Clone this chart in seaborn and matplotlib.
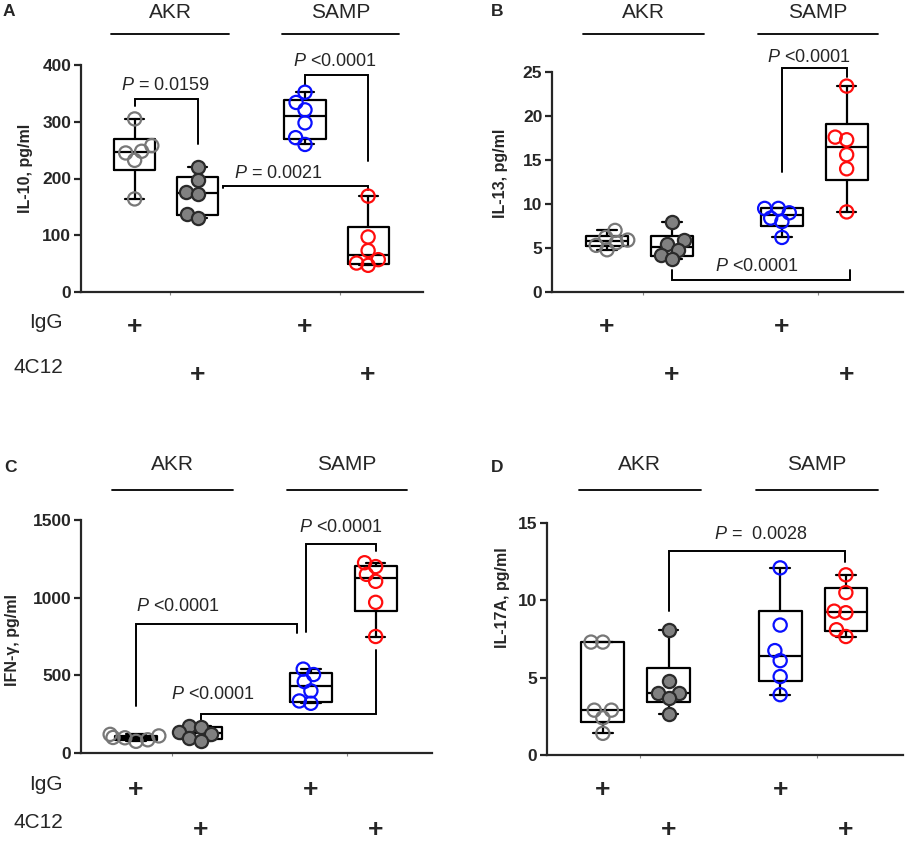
import numpy as np
import pandas as pd
import seaborn as sns
import matplotlib.pyplot as plt
from matplotlib.transforms import blended_transform_factory

# ---- data ----
groups = ["AKR IgG", "AKR 4C12", "SAMP IgG", "SAMP 4C12"]
strains = ["AKR", "SAMP"]

il10 = [
    [305, 258, 248, 245, 232, 164],
    [220, 198, 176, 172, 137, 130],
    [352, 334, 321, 298, 272, 260],
    [169, 97, 73, 57, 51, 47],
]
il13 = [
    [7.0, 6.2, 5.9, 5.6, 5.3, 4.8],
    [7.9, 5.9, 5.4, 4.8, 4.2, 3.7],
    [9.5, 9.5, 9.0, 8.4, 8.0, 6.2],
    [23.4, 17.6, 17.3, 15.6, 14.0, 9.1],
]
ifng = [
    [120, 110, 100, 98, 85, 75],
    [175, 165, 135, 120, 95, 80],
    [540, 505, 460, 400, 335, 320],
    [1225, 1200, 1150, 1105, 970, 750],
]
il17a = [
    [7.3, 7.3, 2.9, 2.9, 2.4, 1.4],
    [8.05, 4.8, 4.0, 4.0, 3.7, 2.65],
    [12.1, 8.4, 6.75, 6.1, 5.07, 3.9],
    [11.65, 10.5, 9.3, 9.2, 8.1, 7.66],
]

pvals_a = ["= 0.0159", "<0.0001", "= 0.0021"]
pvals_b = ["<0.0001", "<0.0001"]
pvals_c = ["<0.0001", "<0.0001", "<0.0001"]
pvals_d = ["=  0.0028"]

# ---- layout ----
XPOS = [0, 1, 2.7, 3.7]
XLIM = (-0.85, 4.57)
STYLE = [
    dict(face="none", edge="#777777"),
    dict(face="#808080", edge="#2a2a2a"),
    dict(face="none", edge="#0a10ff"),
    dict(face="none", edge="#ff0d0d"),
]
SWARM_SIZE = 6.5   # size used to lay out the swarm (lets circles overlap like Prism)
DOT_SIZE = 9.5     # size the circles are drawn with

sns.set_style("ticks")
plt.rcParams["font.family"] = ["Liberation Sans", "DejaVu Sans"]
plt.rcParams["mathtext.fontset"] = "custom"
plt.rcParams["mathtext.rm"] = "Liberation Sans"
plt.rcParams["mathtext.it"] = "Liberation Sans:italic"

W, H = 906, 843
fig = plt.figure(figsize=(W / 100, H / 100), dpi=100)
swarms = []


def px_rect(x0, x1, ytop, ybot):
    return [x0 / W, 1 - ybot / H, (x1 - x0) / W, (ybot - ytop) / H]


def draw_panel(rect, letter, letter_xy, values, ylim, yticks, ylabel, labcoords,
               brackets, header_y, plus_y, show_rowlabels):
    ax = fig.add_axes(rect)
    df = pd.DataFrame({
        "group": np.repeat(groups, [len(v) for v in values]),
        "value": np.concatenate(values),
    })
    df["x"] = df["group"].map(dict(zip(groups, XPOS)))

    # boxes: min-max whiskers, quartiles like Prism
    stats = []
    for g in groups:
        v = df.loc[df.group == g, "value"].to_numpy()
        q1, med, q3 = np.percentile(v, [25, 50, 75], method="weibull")
        stats.append(dict(med=med, q1=q1, q3=q3, whislo=v.min(), whishi=v.max(), fliers=[]))
    lp = dict(color="black", linewidth=1.6)
    ax.bxp(stats, positions=XPOS, widths=0.65, capwidths=0.3, showfliers=False,
           manage_ticks=False, boxprops=lp, medianprops=lp, whiskerprops=lp, capprops=lp)

    # points
    for g, st in zip(groups, STYLE):
        sub = df[df.group == g]
        sns.swarmplot(x=sub["x"], y=sub["value"], native_scale=True, ax=ax,
                      size=SWARM_SIZE, color=st["edge"], edgecolor=st["edge"],
                      linewidth=1.6, zorder=3)
        coll = ax.collections[-1]
        coll.set_facecolor(st["face"])
        coll.set_edgecolor(st["edge"])
        swarms.append(coll)

    ax.set_xlim(*XLIM)
    ax.set_ylim(*ylim)
    ax.set_yticks(yticks)
    ax.set_xticks([(XPOS[0] + XPOS[1]) / 2 + 0.06, (XPOS[2] + XPOS[3]) / 2 + 0.06])
    ax.set_xticklabels([])
    ax.tick_params(axis="x", length=2, width=0.8, color="#888888")
    ax.tick_params(axis="y", length=5, width=1.6, labelsize=12.5, pad=2)
    for t in ax.get_yticklabels():
        t.set_fontweight("bold")
    ax.set_xlabel("")
    ax.set_ylabel(ylabel, fontsize=11.5, fontweight="bold", va="center")
    ax.yaxis.set_label_coords(*labcoords)
    sns.despine(ax=ax)
    ax.spines["left"].set_linewidth(1.6)
    ax.spines["bottom"].set_linewidth(1.6)
    ax.spines["left"].set_bounds(*ylim)

    # significance brackets
    for x1, x2, yl, top, yr, txt, tx, ty in brackets:
        ax.plot([x1, x1, x2, x2], [yl, top, top, yr], color="black", lw=1.4,
                clip_on=False, solid_joinstyle="miter")
        ax.text(tx, ty, r"$\mathit{P}$ " + txt, ha="center", va="center",
                fontsize=13, clip_on=False)

    # strain headers
    tr = blended_transform_factory(ax.transData, fig.transFigure)
    for name, (a, b) in zip(strains, [(XPOS[0], XPOS[1]), (XPOS[2], XPOS[3])]):
        c = (a + b) / 2 + 0.06
        ax.plot([c - 0.93, c + 0.93], [1 - header_y[0] / H] * 2, color="black",
                lw=1.3, transform=tr, clip_on=False)
        ax.text(c, 1 - header_y[1] / H, name, transform=tr, ha="center",
                va="center", fontsize=15)

    # treatment rows
    for i, x in enumerate(XPOS):
        yrow = plus_y[0] if i in (0, 2) else plus_y[1]
        ax.text(x, 1 - yrow / H, "+", transform=tr, ha="center", va="center",
                fontsize=19, fontweight="bold")
    if show_rowlabels:
        ax.text(63 / W, 1 - (plus_y[0] - 5) / H, "IgG", transform=fig.transFigure,
                ha="right", va="center", fontsize=15)
        ax.text(63 / W, 1 - (plus_y[1] - 7) / H, "4C12", transform=fig.transFigure,
                ha="right", va="center", fontsize=15)

    fig.text(letter_xy[0] / W, 1 - letter_xy[1] / H, letter, fontsize=12.5,
             fontweight="bold", ha="left", va="center")
    return ax


draw_panel(px_rect(81, 423, 65, 292), "A", (3, 12), il10, (0, 400),
           [0, 100, 200, 300, 400], "IL-10, pg/ml", (-0.162, 0.546),
           [(0, 1, 328, 340, 261, pvals_a[0], 0.48, 363),
            (2.7, 3.7, 365, 382, 230, pvals_a[1], 3.17, 406),
            (1.4, 3.7, 183, 187, 180, pvals_a[2], 2.27, 209)],
           (34, 12), (327, 375), True)

draw_panel(px_rect(552, 903, 72, 292), "B", (491, 12), il13, (0, 25),
           [0, 5, 10, 15, 20, 25], "IL-13, pg/ml", (-0.148, 0.54),
           [(2.7, 3.7, 13.6, 25.4, 24.4, pvals_b[0], 3.12, 26.7),
            (1.0, 3.75, 2.45, 1.4, 2.45, pvals_b[1], 2.31, 2.9)],
           (34, 12), (327, 375), False)

draw_panel(px_rect(81, 432, 520, 753), "C", (4, 467), ifng, (0, 1500),
           [0, 500, 1000, 1500], "IFN-γ, pg/ml", (-0.195, 0.485),
           [(2.62, 3.7, 782, 1346, 1303, pvals_c[0], 3.17, 1453),
            (0, 2.48, 304, 831, 771, pvals_c[1], 0.64, 943),
            (1.0, 3.7, 204, 253, 664, pvals_c[2], 1.18, 379)],
           (490, 465), (790, 830), True)

draw_panel(px_rect(547, 903, 523, 755), "D", (491, 467), il17a, (0, 15),
           [0, 5, 10, 15], "IL-17A, pg/ml", (-0.126, 0.68),
           [(1.0, 3.69, 9.3, 13.2, 12.5, pvals_d[0], 2.41, 14.25)],
           (490, 465), (790, 830), False)

# lay the swarms out once with the small size, then freeze them and enlarge the dots
fig.canvas.draw()
for coll in swarms:
    if "draw" in coll.__dict__:
        del coll.draw
    coll.set_sizes([DOT_SIZE ** 2])

fig.savefig("out.png", dpi=100)
